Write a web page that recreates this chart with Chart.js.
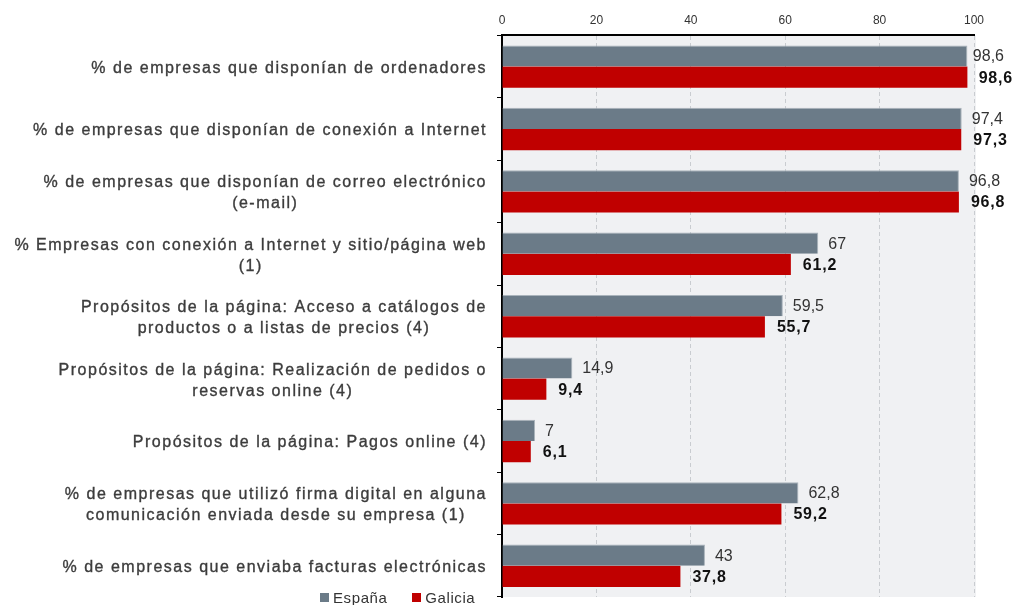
<!DOCTYPE html>
<html>
<head>
<meta charset="utf-8">
<script src="https://cdn.jsdelivr.net/npm/chart.js@4"></script>
<style>
  html, body { margin: 0; padding: 0; background: #fff; }
  #wrap { position: relative; width: 1015px; height: 605px; }
  #legend { position: absolute; left: 320px; top: 589px; font: 15px "Liberation Sans", Arial, sans-serif; color: #333; letter-spacing: 0.6px; white-space: nowrap; }
  #legend span.box { display: inline-block; width: 9px; height: 9px; margin-right: 4px; vertical-align: 1px; }
  #legend span.item { margin-right: 20px; }
</style>
</head>
<body>
<div id="wrap">
  <canvas id="c" width="1015" height="605"></canvas>
  <div id="legend">
    <span class="item"><span class="box" style="background:#6b7b88"></span>España</span>
    <span class="item"><span class="box" style="background:#c00000"></span>Galicia</span>
  </div>
</div>
<script>
const categories = [
  ['% de empresas que disponían de ordenadores'],
  ['% de empresas que disponían de conexión a Internet'],
  ['% de empresas que disponían de correo electrónico', '(e-mail)'],
  ['% Empresas con conexión a Internet y sitio/página web', '(1)'],
  ['Propósitos de la página: Acceso a catálogos de', 'productos o a listas de precios (4)'],
  ['Propósitos de la página: Realización de pedidos o', 'reservas online (4)'],
  ['Propósitos de la página: Pagos online (4)'],
  ['% de empresas que utilizó firma digital en alguna', 'comunicación enviada desde su empresa (1)'],
  ['% de empresas que enviaba facturas electrónicas']
];
const espana = [98.6, 97.4, 96.8, 67, 59.5, 14.9, 7, 62.8, 43];
const galicia = [98.6, 97.3, 96.8, 61.2, 55.7, 9.4, 6.1, 59.2, 37.8];

const FONT = '"Liberation Sans", Arial, sans-serif';
const fmt = v => String(v).replace('.', ',');

const plotBg = {
  id: 'plotBg',
  beforeDraw(chart) {
    const { ctx, chartArea: a } = chart;
    ctx.save();
    ctx.fillStyle = '#f0f1f3';
    ctx.fillRect(a.left, a.top, a.right - a.left + 2, a.bottom - a.top);
    ctx.restore();
  }
};

// category labels: block right-aligned to the axis, lines centred inside the block
const catLabels = {
  id: 'catLabels',
  afterDraw(chart) {
    const { ctx } = chart;
    const y = chart.scales.y;
    const right = 487;
    const lh = 21;
    ctx.save();
    ctx.font = '16px ' + FONT;
    ctx.letterSpacing = '1.5px';
    ctx.fillStyle = '#3c3c3c';
    ctx.strokeStyle = '#3c3c3c';
    ctx.lineWidth = 0.35;
    ctx.textBaseline = 'middle';
    ctx.textAlign = 'center';
    categories.forEach((lines, i) => {
      const cy = y.getPixelForValue(i) + 2;
      const w = Math.max(...lines.map(l => ctx.measureText(l).width));
      const cx = right - w / 2;
      const y0 = cy - (lines.length - 1) * lh / 2;
      lines.forEach((l, k) => {
        ctx.fillText(l, cx, y0 + k * lh);
        ctx.strokeText(l, cx, y0 + k * lh);
      });
    });
    ctx.restore();
  }
};

const valueLabels = {
  id: 'valueLabels',
  afterDatasetsDraw(chart) {
    const { ctx } = chart;
    ctx.save();
    ctx.textBaseline = 'middle';
    ctx.textAlign = 'left';
    chart.data.datasets.forEach((ds, di) => {
      const meta = chart.getDatasetMeta(di);
      ctx.font = (di === 1 ? 'bold ' : '') + '16px ' + FONT;
      ctx.letterSpacing = di === 1 ? '0.8px' : '0px';
      ctx.fillStyle = di === 1 ? '#111' : '#333';
      meta.data.forEach((bar, i) => {
        const txt = fmt(ds.data[i]);
        const w = ctx.measureText(txt).width;
        let x = bar.x + (di === 1 ? 12 : 10);
        x = Math.min(x, chart.width - w - (di === 1 ? 2 : 11));
        ctx.fillText(txt, x, bar.y + 1);
      });
    });
    ctx.restore();
  }
};

new Chart(document.getElementById('c'), {
  type: 'bar',
  data: {
    labels: categories.map(c => c.join(' ')),
    datasets: [
      { label: 'España', data: espana, backgroundColor: '#6b7b88', borderColor: '#a9b3bb', borderWidth: { top: 1, right: 1, bottom: 0, left: 0 }, borderSkipped: 'start' },
      { label: 'Galicia', data: galicia, backgroundColor: '#c00000', borderWidth: 0 }
    ]
  },
  options: {
    indexAxis: 'y',
    responsive: false,
    animation: false,
    layout: { padding: { top: 5, right: 41, bottom: 8, left: 0 } },
    categoryPercentage: 0.68,
    barPercentage: 1,
    plugins: {
      legend: { display: false },
      tooltip: { enabled: false }
    },
    scales: {
      x: {
        position: 'top',
        min: 0,
        max: 100,
        ticks: { stepSize: 20, color: '#333', font: { family: FONT, size: 12 }, padding: 8 },
        grid: { color: '#c9ccd0', lineWidth: 1, drawTicks: false },
        border: { display: true, color: '#000', width: 2, dash: [4, 3] }
      },
      y: {
        afterFit(s) { s.width = 502; },
        ticks: { display: false },
        grid: { offset: true, drawOnChartArea: false, drawTicks: true, tickLength: 5, color: '#000', lineWidth: 1 },
        border: { display: true, color: '#000', width: 2 }
      }
    }
  },
  plugins: [plotBg, catLabels, valueLabels]
});
</script>
</body>
</html>
